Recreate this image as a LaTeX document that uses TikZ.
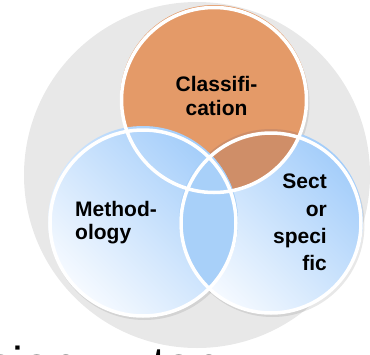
\documentclass[tikz,border=0pt]{standalone}
\usepackage{fontspec}
\setmainfont{Liberation Sans}
\definecolor{bggray}{HTML}{E8E8E8}
\definecolor{orangefill}{HTML}{E49A68}
\definecolor{orangedeep}{HTML}{CF8E68}
\definecolor{bluedeep}{HTML}{A3CDFA}
\definecolor{bluepale}{HTML}{F6FAFF}
\definecolor{bluelens}{HTML}{A8D0F9}
\tikzset{
  ringline/.style={draw=white, line width=3.5pt},
  shadowdisc/.style={fill=black, fill opacity=0.09},
  bluedisc/.style={top color=bluedeep, bottom color=bluepale, shading angle=-45},
  lbl/.style={font=\fontsize{21}{25}\bfseries\selectfont, inner sep=0pt, text=black},
  bigtxt/.style={font=\fontsize{49}{55}\selectfont, inner sep=0pt, text=black}
}
\begin{document}
\begin{tikzpicture}[x=1pt,y=-1pt]
\useasboundingbox (0,0) rectangle (370,354);
\clip (0,0) rectangle (370,354);
% centres
\coordinate (bg) at (197,175);
\coordinate (oc) at (214,99);
\coordinate (lc) at (143,221);
\coordinate (rc) at (271,221);
\coordinate (orr) at (214,100);
\coordinate (lr) at (143,223);
\coordinate (rr) at (271,223);
% background disc
\fill[bggray] (bg) circle (173pt);
% shadows
\fill[shadowdisc] ([shift={(1.5,4)}]oc) circle (94pt);
\fill[shadowdisc] ([shift={(1.5,4)}]lc) circle (95pt);
\fill[shadowdisc] ([shift={(1.5,4)}]rc) circle (92pt);
% right disc
\shade[bluedisc] (rc) circle (92pt);
% orange disc
\fill[orangefill] (oc) circle (94pt);
\begin{scope}
  \clip (oc) circle (94pt);
  \fill[orangedeep] (rc) circle (92pt);
\end{scope}
% left disc
\shade[bluedisc] (lc) circle (95pt);
\begin{scope}
  \clip (lc) circle (95pt);
  \fill[bluelens] (rc) circle (92pt);
\end{scope}
% rings
\draw[ringline] (orr) circle (92.5pt);
\draw[ringline] (lr) circle (93pt);
\draw[ringline] (rr) circle (90pt);
% labels
\node[lbl, anchor=base] (cl1) at (216.5,91) {Classifi-};
\node[lbl, anchor=base] (cl2) at (216.5,115.5) {cation};
\node[lbl, anchor=base west] (me1) at (75,216.5) {Method-};
\node[lbl, anchor=base west] (me2) at (75,239.5) {ology};
\node[lbl, anchor=base east] (se1) at (327,188.5) {Sect};
\node[lbl, anchor=base east] (se2) at (327,216) {or};
\node[lbl, anchor=base east] (se3) at (327,243) {speci};
\node[lbl, anchor=base east] (se4) at (327,270) {fic};
% bottom clipped text
\node[bigtxt, anchor=base west] (bt1) at (-12,381) {sion};
\node[bigtxt, anchor=base west] (bt2) at (152,381) {ton};
\end{tikzpicture}
\end{document}
